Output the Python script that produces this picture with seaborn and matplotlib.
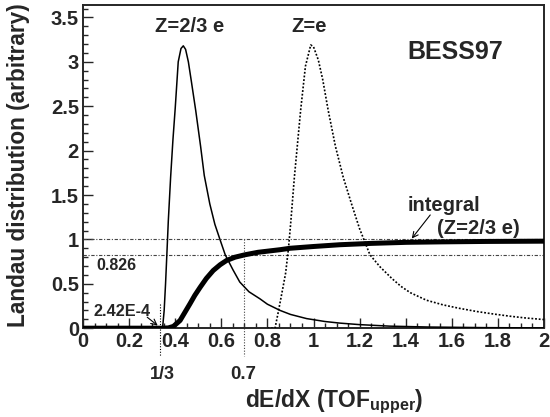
import numpy as np
import pandas as pd
import seaborn as sns
import matplotlib
matplotlib.use("Agg")
import matplotlib.pyplot as plt
from matplotlib.ticker import MultipleLocator, FuncFormatter


# Landau curve for Z=2/3 e (thin solid)
z23_x = [0.0, 0.30, 0.345, 0.352, 0.358, 0.364, 0.37, 0.38, 0.39, 0.40, 0.413, 0.425,
         0.435, 0.445, 0.457, 0.47, 0.489, 0.51, 0.526, 0.55, 0.572, 0.594, 0.617,
         0.65, 0.68, 0.72, 0.768, 0.80, 0.855, 0.90, 0.97, 1.05, 1.115, 1.2, 1.33,
         1.5, 1.75, 2.0]
z23_y = [0.0, 0.0, 0.0, 0.2, 0.5, 0.85, 1.21, 1.70, 2.12, 2.48, 3.0, 3.15,
         3.18, 3.14, 3.0, 2.78, 2.45, 2.05, 1.72, 1.40, 1.17, 1.0, 0.826,
         0.66, 0.52, 0.41, 0.33, 0.27, 0.20, 0.155, 0.108, 0.075, 0.057, 0.04, 0.023,
         0.013, 0.006, 0.003]

# Landau curve for Z=e (dotted)
ze_x = [0.80, 0.833, 0.847, 0.858, 0.869, 0.879, 0.891, 0.90, 0.917, 0.944, 0.965,
        0.988, 1.0, 1.021, 1.04, 1.064, 1.095, 1.129, 1.165, 1.2, 1.245, 1.289,
        1.34, 1.38, 1.42, 1.49, 1.563, 1.63, 1.708, 1.78, 1.852, 1.92, 2.0]
ze_y = [0.0, 0.0, 0.18, 0.33, 0.48, 0.62, 0.89, 1.15, 1.70, 2.45, 2.95,
        3.19, 3.17, 3.02, 2.8, 2.45, 2.05, 1.70, 1.40, 1.12, 0.826, 0.69,
        0.56, 0.47, 0.40, 0.315, 0.262, 0.225, 0.188, 0.16, 0.135, 0.115, 0.097]

# integral of the Z=2/3 e curve (thick)
int_x = [0.0, 0.34, 0.37, 0.392, 0.421, 0.44, 0.464, 0.485, 0.508, 0.535, 0.565,
         0.595, 0.623, 0.66, 0.703, 0.76, 0.855, 0.898, 1.0, 1.115, 1.25, 1.404,
         1.55, 1.75, 2.0]
int_y = [0.0, 0.0, 0.003, 0.02, 0.087, 0.17, 0.275, 0.37, 0.46, 0.56, 0.65,
         0.715, 0.763, 0.80, 0.827, 0.855, 0.884, 0.90, 0.92, 0.94, 0.955, 0.967,
         0.972, 0.977, 0.98]

# reference values marked on the plot
ref_levels = [1.0, 0.826]
cut_third = 1 / 3
cut_07 = 0.7


def main():
    sns.set_style("ticks")
    plt.rcParams['font.family'] = ['Liberation Sans', 'DejaVu Sans']
    plt.rcParams['font.weight'] = 'bold'
    plt.rcParams['mathtext.fontset'] = 'custom'
    plt.rcParams['mathtext.bf'] = 'Liberation Sans:bold'
    plt.rcParams['mathtext.rm'] = 'Liberation Sans:bold'

    fig = plt.figure(figsize=(5.5, 4.17), dpi=100)
    ax = fig.add_axes([0.151, 0.213, 0.838, 0.775])

    df23 = pd.DataFrame({'x': z23_x, 'y': z23_y})
    dfe = pd.DataFrame({'x': ze_x, 'y': ze_y})
    dfi = pd.DataFrame({'x': int_x, 'y': int_y})

    sns.lineplot(data=df23, x='x', y='y', ax=ax, color='black', linewidth=1.1,
                 estimator=None, zorder=3)
    sns.lineplot(data=dfe, x='x', y='y', ax=ax, color='black', linewidth=1.2,
                 linestyle=(0, (1.1, 1.1)), estimator=None, zorder=3)
    sns.lineplot(data=dfi, x='x', y='y', ax=ax, color='black', linewidth=3.6,
                 estimator=None, zorder=4)

    # reference lines
    for lv in ref_levels:
        ax.plot([0, 2], [lv, lv], color='#444444', linewidth=0.8,
                linestyle=(0, (3, 1.5, 1, 1.5)), zorder=2)
    ax.plot([cut_third, cut_third], [0.275, -0.31], color='black', linewidth=0.8,
            linestyle=(0, (1, 1.5)), clip_on=False, zorder=2)
    ax.plot([cut_07, cut_07], [1.0, -0.31], color='#444444', linewidth=0.8,
            linestyle=(0, (1, 1.5)), clip_on=False, zorder=2)

    ax.set_xlim(0, 2)
    ax.set_ylim(0, 3.64)
    ax.xaxis.set_major_locator(MultipleLocator(0.2))
    ax.xaxis.set_minor_locator(MultipleLocator(0.05))
    ax.yaxis.set_major_locator(MultipleLocator(0.5))
    ax.yaxis.set_minor_locator(MultipleLocator(0.1))
    fmt = FuncFormatter(lambda v, p: '%g' % round(v, 2))
    ax.xaxis.set_major_formatter(fmt)
    ax.yaxis.set_major_formatter(fmt)
    ax.tick_params(which='major', direction='in', length=7, width=1, labelsize=14.5,
                   top=False, right=False, pad=3)
    ax.tick_params(which='minor', direction='in', length=3.5, width=1,
                   top=False, right=False)
    for s in ax.spines.values():
        s.set_linewidth(1.4)
        s.set_visible(True)

    ax.set_xlabel('')
    ax.set_ylabel('')
    bold = dict(fontweight='bold', ha='center', va='center')
    fig.text(0.607, 0.036, r'dE/dX (TOF$_{\mathbf{upper}}$)', fontsize=16.5, **bold)
    fig.text(0.033, 0.604, 'Landau distribution (arbitrary)', fontsize=16.3,
             rotation=90, **bold)

    # annotations
    ax.text(0.464, 3.40, 'Z=2/3 e', fontsize=14.5, **bold)
    ax.text(0.981, 3.40, 'Z=e', fontsize=14.5, **bold)
    ax.text(1.616, 3.11, 'BESS97', fontsize=18, **bold)
    ax.text(1.566, 1.38, 'integral', fontsize=14.5, **bold)
    ax.text(1.715, 1.12, '(Z=2/3 e)', fontsize=14.5, **bold)
    ax.annotate('', xy=(1.419, 0.985), xytext=(1.514, 1.30),
                arrowprops=dict(arrowstyle='->', color='black', lw=0.8))
    ax.text(0.146, 0.707, '0.826', fontsize=11.5, **bold)
    ax.text(0.168, 0.19, '2.42E-4', fontsize=11.7, **bold)
    ax.annotate('', xy=(cut_third, 0.01), xytext=(0.269, 0.143),
                arrowprops=dict(arrowstyle='->', color='black', lw=0.8))
    ax.text(0.345, -0.52, '1/3', fontsize=13, clip_on=False, **bold)
    ax.text(0.694, -0.52, '0.7', fontsize=13.5, clip_on=False, **bold)

    fig.savefig('out.png', dpi=100)


if __name__ == "__main__":
    main()
